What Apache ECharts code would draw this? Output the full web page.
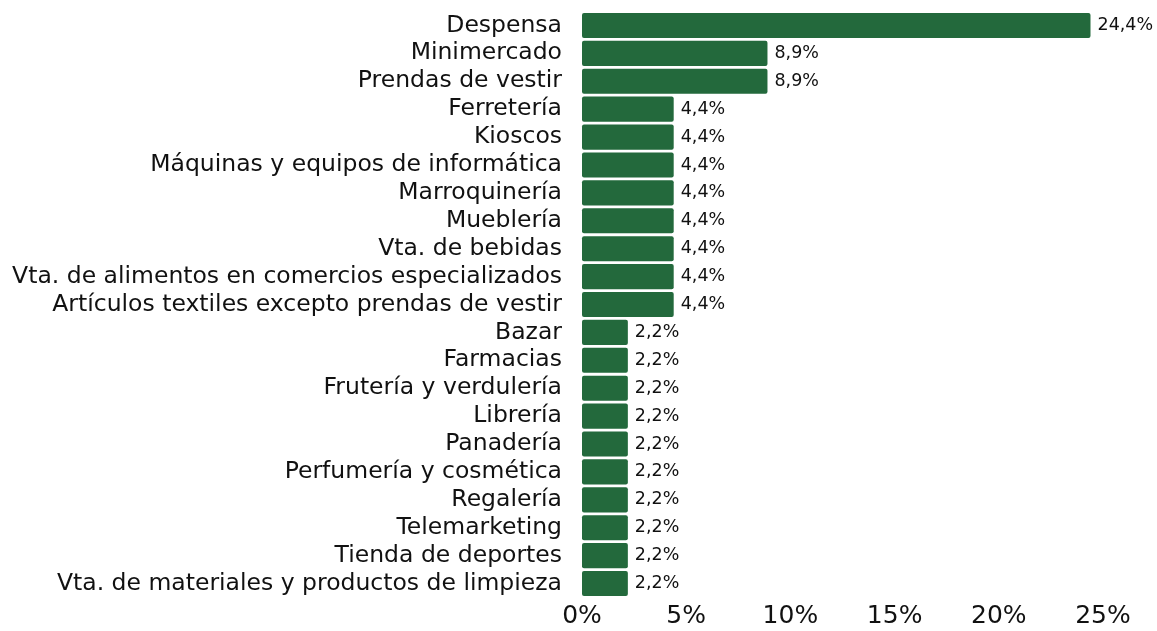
<!DOCTYPE html>
<html>
<head>
<meta charset="utf-8">
<script src="https://cdn.jsdelivr.net/npm/echarts@6/dist/echarts.min.js"></script>
<style>
html,body{margin:0;padding:0;background:#fff;}
#chart{width:1157px;height:631px;}
</style>
</head>
<body>
<div id="chart"></div>
<script>
const categories = [
  "Despensa",
  "Minimercado",
  "Prendas de vestir",
  "Ferretería",
  "Kioscos",
  "Máquinas y equipos de informática",
  "Marroquinería",
  "Mueblería",
  "Vta. de bebidas",
  "Vta. de alimentos en comercios especializados",
  "Artículos textiles excepto prendas de vestir",
  "Bazar",
  "Farmacias",
  "Frutería y verdulería",
  "Librería",
  "Panadería",
  "Perfumería y cosmética",
  "Regalería",
  "Telemarketing",
  "Tienda de deportes",
  "Vta. de materiales y productos de limpieza"
];
const values = [24.4, 8.9, 8.9, 4.4, 4.4, 4.4, 4.4, 4.4, 4.4, 4.4, 4.4, 2.2, 2.2, 2.2, 2.2, 2.2, 2.2, 2.2, 2.2, 2.2, 2.2];
const xTicks = [0, 5, 10, 15, 20, 25];

const FONT = "DejaVu Sans";
const chart = echarts.init(document.getElementById('chart'), null, {renderer: 'canvas'});
chart.setOption({
  animation: false,
  backgroundColor: '#ffffff',
  grid: {left: 582, right: 54, top: 11.5, bottom: 33.5, containLabel: false},
  xAxis: {
    type: 'value',
    min: xTicks[0],
    max: xTicks[xTicks.length - 1],
    interval: 5,
    axisLine: {show: false},
    axisTick: {show: false},
    splitLine: {show: false},
    axisLabel: {
      formatter: v => v + '%',
      fontFamily: FONT,
      fontSize: 25,
      color: '#111',
      margin: 6
    }
  },
  yAxis: {
    type: 'category',
    data: categories,
    inverse: true,
    axisLine: {show: false},
    axisTick: {show: false},
    splitLine: {show: false},
    axisLabel: {
      interval: 0,
      hideOverlap: false,
      fontFamily: FONT,
      fontSize: 23.5,
      color: '#111',
      margin: 20
    }
  },
  series: [{
    type: 'bar',
    data: values,
    barCategoryGap: '10%',
    itemStyle: {color: '#23693C', borderRadius: 2},
    label: {
      show: true,
      position: 'right',
      distance: 7,
      formatter: p => p.value.toFixed(1).replace('.', ',') + '%',
      fontFamily: FONT,
      fontSize: 17.5,
      color: '#111'
    }
  }]
});
</script>
</body>
</html>
